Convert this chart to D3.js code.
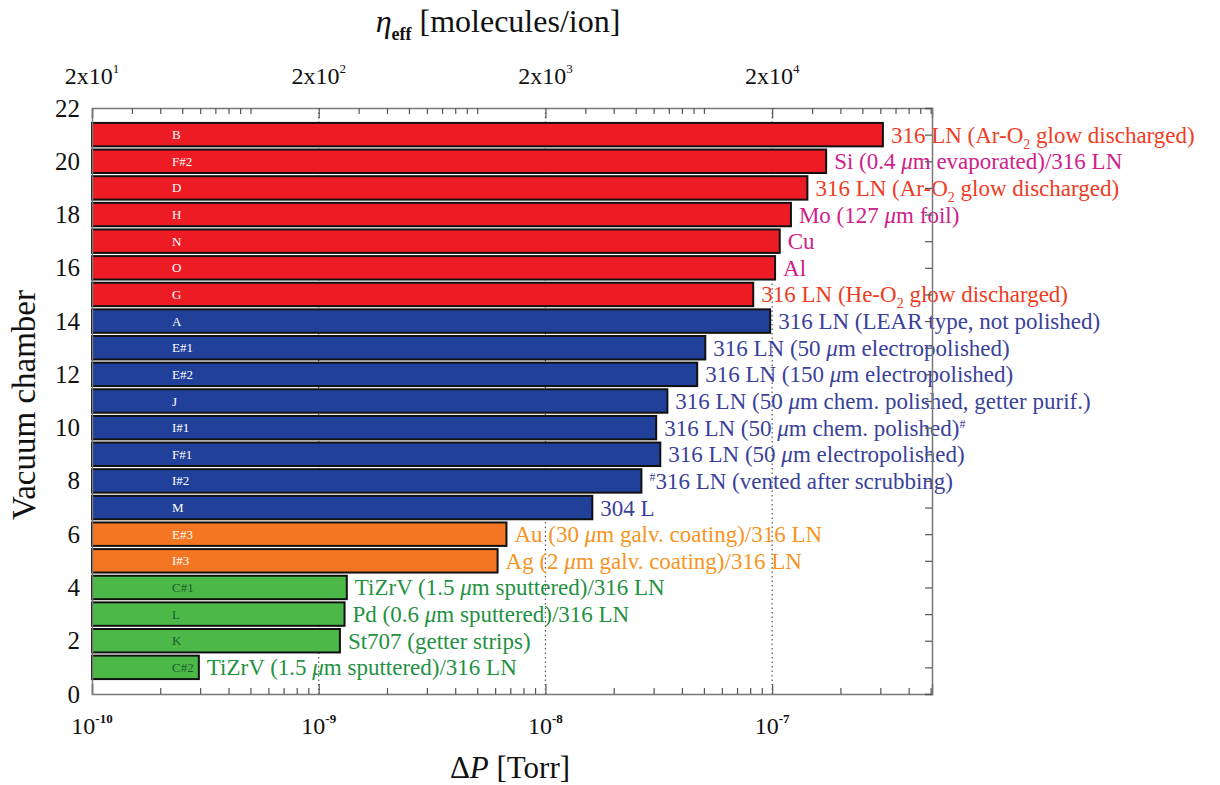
<!DOCTYPE html>
<html>
<head>
<meta charset="utf-8">
<script src="https://cdn.jsdelivr.net/npm/d3@7"></script>
<style>
  body { margin: 0; background: #fff; }
  svg { display: block; font-family: "Liberation Serif", "DejaVu Serif", serif; }
</style>
</head>
<body>
<script>
// chamber codes, bottom (1) to top (21)
const chambers = ["C#2", "K", "L", "C#1", "I#3", "E#3", "M", "I#2", "F#1", "I#1", "J",
  "E#2", "E#1", "A", "G", "O", "N", "H", "D", "F#2", "B"];

// pressure rise ΔP [Torr]
const deltaP = [2.96e-10, 1.24e-9, 1.30e-9, 1.33e-9, 6.15e-9, 6.73e-9, 1.61e-8, 2.65e-8, 3.21e-8,
  3.08e-8, 3.45e-8, 4.67e-8, 5.07e-8, 9.8e-8, 8.25e-8, 1.03e-7, 1.08e-7, 1.21e-7, 1.43e-7, 1.73e-7, 3.08e-7];

// bar group (colour family)
const groups = ["getter", "getter", "getter", "getter", "coated", "coated", "steel", "steel", "steel",
  "steel", "steel", "steel", "steel", "steel", "other", "other", "other", "other", "other", "other", "other"];

// material descriptions (_{..} subscript, ^{..} superscript)
const materials = [
  "TiZrV (1.5 μm sputtered)/316 LN",
  "St707 (getter strips)",
  "Pd (0.6 μm sputtered)/316 LN",
  "TiZrV (1.5 μm sputtered)/316 LN",
  "Ag (2 μm galv. coating)/316 LN",
  "Au (30 μm galv. coating)/316 LN",
  "304 L",
  "^{#}316 LN (vented after scrubbing)",
  "316 LN (50 μm electropolished)",
  "316 LN (50 μm chem. polished)^{#}",
  "316 LN (50 μm chem. polished, getter purif.)",
  "316 LN (150 μm electropolished)",
  "316 LN (50 μm electropolished)",
  "316 LN (LEAR type, not polished)",
  "316 LN (He-O_{2} glow discharged)",
  "Al",
  "Cu",
  "Mo (127 μm foil)",
  "316 LN (Ar-O_{2} glow discharged)",
  "Si (0.4 μm evaporated)/316 LN",
  "316 LN (Ar-O_{2} glow discharged)"
];

// label colour family
const labelKinds = ["getter", "getter", "getter", "getter", "coated", "coated", "steel", "steel", "steel",
  "steel", "steel", "steel", "steel", "steel", "glow", "metal", "metal", "metal", "glow", "metal", "glow"];

const yTicks = [0, 2, 4, 6, 8, 10, 12, 14, 16, 18, 20, 22];
const decades = [1e-10, 1e-9, 1e-8, 1e-7];

const barColor = { other: "#ed1c24", steel: "#21409a", coated: "#f47622", getter: "#4cb848" };
const innerColor = { other: "#fff", steel: "#fff", coated: "#fff", getter: "#1d5e2e" };
const textColor = { glow: "#f03c23", metal: "#d0208a", steel: "#3a419a", coated: "#f7941d", getter: "#1f9142" };

const W = 1220, H = 785;
const svg = d3.select("body").append("svg").attr("width", W).attr("height", H);

const x = d3.scaleLog().domain([1e-10, 5.07e-7]).range([92, 932]);
const y = d3.scaleLinear().domain([0, 22]).range([694, 108]);
// η_eff = 2e11 * ΔP
const eta = d3.scaleLog().domain([20, 20 * 5070]).range([92, 932]);

const rows = chambers.map((c, i) => ({
  pos: i + 1, code: c, dp: deltaP[i], group: groups[i], text: materials[i], kind: labelKinds[i]
}));

// dotted decade gridlines
svg.append("g").selectAll("line").data(decades.slice(1)).join("line")
  .attr("x1", d => x(d)).attr("x2", d => x(d))
  .attr("y1", y(22)).attr("y2", y(0))
  .attr("stroke", "#555").attr("stroke-width", 1.2).attr("stroke-dasharray", "1.5,3");

// bars
const half = 0.44;
svg.append("g").selectAll("rect").data(rows).join("rect")
  .attr("x", x(1e-10))
  .attr("y", d => y(d.pos + half))
  .attr("width", d => x(d.dp) - x(1e-10))
  .attr("height", d => y(d.pos - half) - y(d.pos + half))
  .attr("fill", d => barColor[d.group])
  .attr("stroke", "#111").attr("stroke-width", 2);

// chamber codes inside bars
svg.append("g").selectAll("text").data(rows).join("text")
  .attr("x", 172).attr("y", d => y(d.pos) + 4.5)
  .attr("font-size", 13)
  .attr("fill", d => innerColor[d.group])
  .text(d => d.code);

// material labels: sub/superscripts shift the baseline, next run shifts back
function richText(sel, str) {
  const parts = str.split(/(_\{[^}]*\}|\^\{[^}]*\}|μ)/).filter(s => s.length);
  let back = 0;
  parts.forEach(p => {
    let t;
    if (p.startsWith("_{")) {
      t = sel.append("tspan").attr("font-size", 14).attr("dy", back + 6).text(p.slice(2, -1));
      back = -6;
      return;
    } else if (p.startsWith("^{")) {
      t = sel.append("tspan").attr("font-size", 12).attr("dy", back - 8).text(p.slice(2, -1));
      back = 8;
      return;
    } else if (p === "μ") {
      t = sel.append("tspan").attr("font-style", "italic").text(p);
    } else {
      t = sel.append("tspan").text(p);
    }
    if (back) { t.attr("dy", back); back = 0; }
  });
}

svg.append("g").selectAll("text").data(rows).join("text")
  .attr("x", d => x(d.dp) + 8).attr("y", d => y(d.pos) + 8)
  .attr("font-size", 23)
  .attr("fill", d => textColor[d.kind])
  .each(function(d) { richText(d3.select(this), d.text); });

// axes
const axisColor = "#777";
const isMajor = v => Math.abs(Math.log10(v) - Math.round(Math.log10(v))) < 1e-6;

const axBottom = svg.append("g").attr("transform", `translate(0,${y(0)})`)
  .call(d3.axisBottom(x).tickValues(x.ticks()).tickSize(-10).tickFormat(""));
axBottom.selectAll(".tick line").attr("y2", d => isMajor(d) ? -10 : -6);

const axTop = svg.append("g").attr("transform", `translate(0,${y(22)})`)
  .call(d3.axisTop(eta).tickValues(eta.ticks().filter(v => v >= 20)).tickSize(-10).tickFormat(""));
axTop.selectAll(".tick line").attr("y2", d => isMajor(d / 2) ? 10 : 6);

const axLeft = svg.append("g").attr("transform", `translate(${x(1e-10)},0)`)
  .call(d3.axisLeft(y).tickValues(yTicks).tickSize(0).tickPadding(12));
axLeft.selectAll("text").attr("font-size", 25).attr("fill", "#111")
  .attr("font-family", "Liberation Serif, serif");

const axRight = svg.append("g").attr("transform", `translate(${x.range()[1]},0)`)
  .call(d3.axisRight(y).ticks(22).tickSize(-7).tickFormat(""));

[axBottom, axTop, axLeft, axRight].forEach(g => {
  g.select(".domain").attr("stroke", axisColor).attr("stroke-width", 1.5);
  g.selectAll(".tick line").attr("stroke", "#555").attr("stroke-width", 1.2);
});

// bottom tick labels 10^n
svg.append("g").selectAll("text").data(decades).join("text")
  .attr("x", d => x(d)).attr("y", 734)
  .attr("text-anchor", "middle").attr("font-size", 24).attr("fill", "#111")
  .each(function(d) {
    const t = d3.select(this);
    t.append("tspan").text("10");
    t.append("tspan").attr("font-size", 13).attr("font-weight", "bold").attr("dy", -11)
      .text(Math.round(Math.log10(d)));
  });

// top tick labels 2x10^n
svg.append("g").selectAll("text").data(decades.map(d => d * 2e11)).join("text")
  .attr("x", d => eta(d)).attr("y", 84)
  .attr("text-anchor", "middle").attr("font-size", 24).attr("fill", "#111")
  .each(function(d) {
    const t = d3.select(this);
    t.append("tspan").text("2x10");
    t.append("tspan").attr("font-size", 13).attr("dy", -11).text(Math.round(Math.log10(d / 2)));
  });

// axis titles
svg.append("text")
  .attr("transform", "translate(35,405) rotate(-90)")
  .attr("text-anchor", "middle").attr("font-size", 33).attr("fill", "#111")
  .text("Vacuum chamber");

const xt = svg.append("text").attr("x", 510).attr("y", 778)
  .attr("text-anchor", "middle").attr("font-size", 31).attr("fill", "#111");
xt.append("tspan").text("Δ");
xt.append("tspan").attr("font-style", "italic").text("P");
xt.append("tspan").text(" [Torr]");

const tt = svg.append("text").attr("x", 498).attr("y", 32)
  .attr("text-anchor", "middle").attr("font-size", 32).attr("fill", "#111");
tt.append("tspan").attr("font-style", "italic").text("η");
tt.append("tspan").attr("font-size", 18).attr("font-weight", "bold").attr("dy", 8).text("eff");
tt.append("tspan").attr("dy", -8).text(" [molecules/ion]");
</script>
</body>
</html>
